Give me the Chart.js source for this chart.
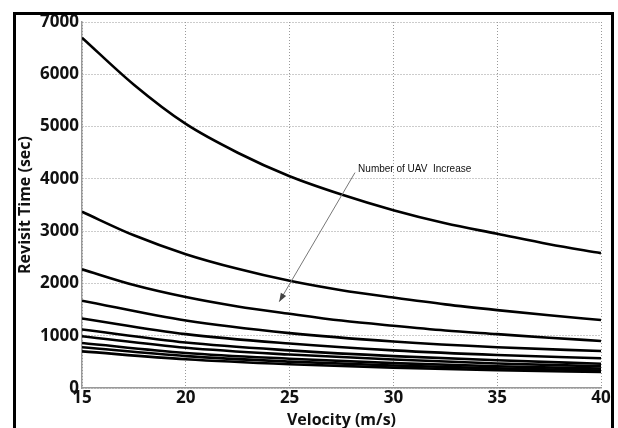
<!DOCTYPE html>
<html>
<head>
<meta charset="utf-8">
<script src="https://cdn.jsdelivr.net/npm/chart.js@4.4.0/dist/chart.umd.min.js"></script>
<style>
  html, body { margin: 0; padding: 0; background: #fff; }
  #wrap { position: relative; width: 618px; height: 428px; }
  #frame { position: absolute; left: 13px; top: 12px; width: 595px; height: 430px;
           border: 3px solid #000; border-bottom: none; pointer-events: none; }
</style>
</head>
<body>
<div id="wrap">
  <canvas id="chart" width="618" height="428"></canvas>
  <div id="frame"></div>
</div>
<script>
// velocity (m/s): fine grid for the upper curves, coarse one for the bundle
const velFine = [15, 17.5, 20, 22.5, 25, 27.5, 30, 32.5, 35, 37.5, 40];
const velocity = [15, 20, 25, 30, 35, 40];
// revisit time (sec), one curve per UAV count
const uav1  = [6700, 5800, 5050, 4500, 4050, 3700, 3400, 3150, 2950, 2750, 2580];
const uav2  = [3370, 2920, 2560, 2280, 2050, 1870, 1730, 1600, 1490, 1390, 1300];
const uav3  = [2270, 1970, 1740, 1560, 1420, 1290, 1190, 1100, 1030, 960, 900];
const uav4  = [1670, 1290, 1050, 890, 780, 707];
const uav5  = [1330, 1030, 850, 720, 630, 568];
const uav6  = [1120, 870, 720, 610, 530, 465];
const uav7  = [990, 770, 640, 545, 470, 415];
const uav8  = [860, 670, 560, 475, 415, 370];
const uav9  = [780, 610, 505, 430, 375, 335];
const uav10 = [700, 550, 455, 390, 340, 305];
const xTicks = [15, 20, 25, 30, 35, 40];
const yTicks = [0, 1000, 2000, 3000, 4000, 5000, 6000, 7000];

const curves = [uav1, uav2, uav3, uav4, uav5, uav6, uav7, uav8, uav9, uav10];

// arrow + note, placed in data units
const note = { text: 'Number of UAV  Increase', x: 28.3, y: 4190 };
const arrowFrom = { x: 28.15, y: 4120 };
const arrowTo = { x: 24.5, y: 1650 };

const labelFont = "'Open Sans', sans-serif";

const annotate = {
  id: 'annotate',
  afterDatasetsDraw(chart) {
    const { ctx, scales: { x, y } } = chart;
    const x1 = x.getPixelForValue(arrowFrom.x), y1 = y.getPixelForValue(arrowFrom.y);
    const x2 = x.getPixelForValue(arrowTo.x), y2 = y.getPixelForValue(arrowTo.y);
    ctx.save();
    ctx.strokeStyle = '#777';
    ctx.fillStyle = '#444';
    ctx.lineWidth = 1;
    ctx.beginPath();
    ctx.moveTo(x1, y1);
    ctx.lineTo(x2, y2);
    ctx.stroke();
    const a = Math.atan2(y2 - y1, x2 - x1);
    const len = 9, w = 0.35;
    ctx.beginPath();
    ctx.moveTo(x2, y2);
    ctx.lineTo(x2 - len * Math.cos(a - w), y2 - len * Math.sin(a - w));
    ctx.lineTo(x2 - len * Math.cos(a + w), y2 - len * Math.sin(a + w));
    ctx.closePath();
    ctx.fill();
    ctx.fillStyle = '#111';
    ctx.font = "10px 'Liberation Sans', Arial, sans-serif";
    ctx.textBaseline = 'middle';
    ctx.fillText(note.text, x.getPixelForValue(note.x), y.getPixelForValue(note.y));
    ctx.restore();
  }
};

new Chart(document.getElementById('chart'), {
  type: 'line',
  data: {
    datasets: curves.map((c, i) => {
      const xs = c.length === velFine.length ? velFine : velocity;
      return {
        label: 'UAV ' + (i + 1),
        data: c.map((v, j) => ({ x: xs[j], y: v })),
        borderColor: '#000',
        borderWidth: 2.6,
        pointRadius: 0,
        cubicInterpolationMode: 'monotone',
        fill: false
      };
    })
  },
  options: {
    responsive: false,
    animation: false,
    layout: { padding: { left: 16, right: 17, top: 22, bottom: 0 } },
    plugins: { legend: { display: false }, tooltip: { enabled: false } },
    scales: {
      x: {
        type: 'linear', min: 15, max: 40,
        afterBuildTicks: s => { s.ticks = xTicks.map(v => ({ value: v })); },
        afterFit: s => { s.height = 40; },
        grid: { color: '#999', lineWidth: 1, drawTicks: false },
        border: { color: '#999', width: 1.5, dash: [1, 2] },
        ticks: { color: '#111', padding: 0, maxRotation: 0, callback: v => String(v),
                 font: { family: labelFont, weight: 'bold', size: 17 } },
        title: { display: true, text: 'Velocity (m/s)', color: '#111', padding: { top: -8, bottom: -2 },
                 font: { family: labelFont, weight: 'bold', size: 16 } }
      },
      y: {
        min: 0, max: 7000,
        afterBuildTicks: s => { s.ticks = yTicks.map(v => ({ value: v })); },
        afterFit: s => { s.width = 66; },
        grid: { color: '#999', lineWidth: 1, drawTicks: false },
        border: { color: '#999', width: 1.5, dash: [1, 2] },
        ticks: { color: '#111', padding: 3, callback: v => String(v),
                 font: { family: labelFont, weight: 'bold', size: 17 } },
        title: { display: true, text: 'Revisit Time (sec)', color: '#111', padding: { top: 0, bottom: 0 },
                 font: { family: labelFont, weight: 'bold', size: 16 } }
      }
    }
  },
  plugins: [annotate]
});
</script>
</body>
</html>
